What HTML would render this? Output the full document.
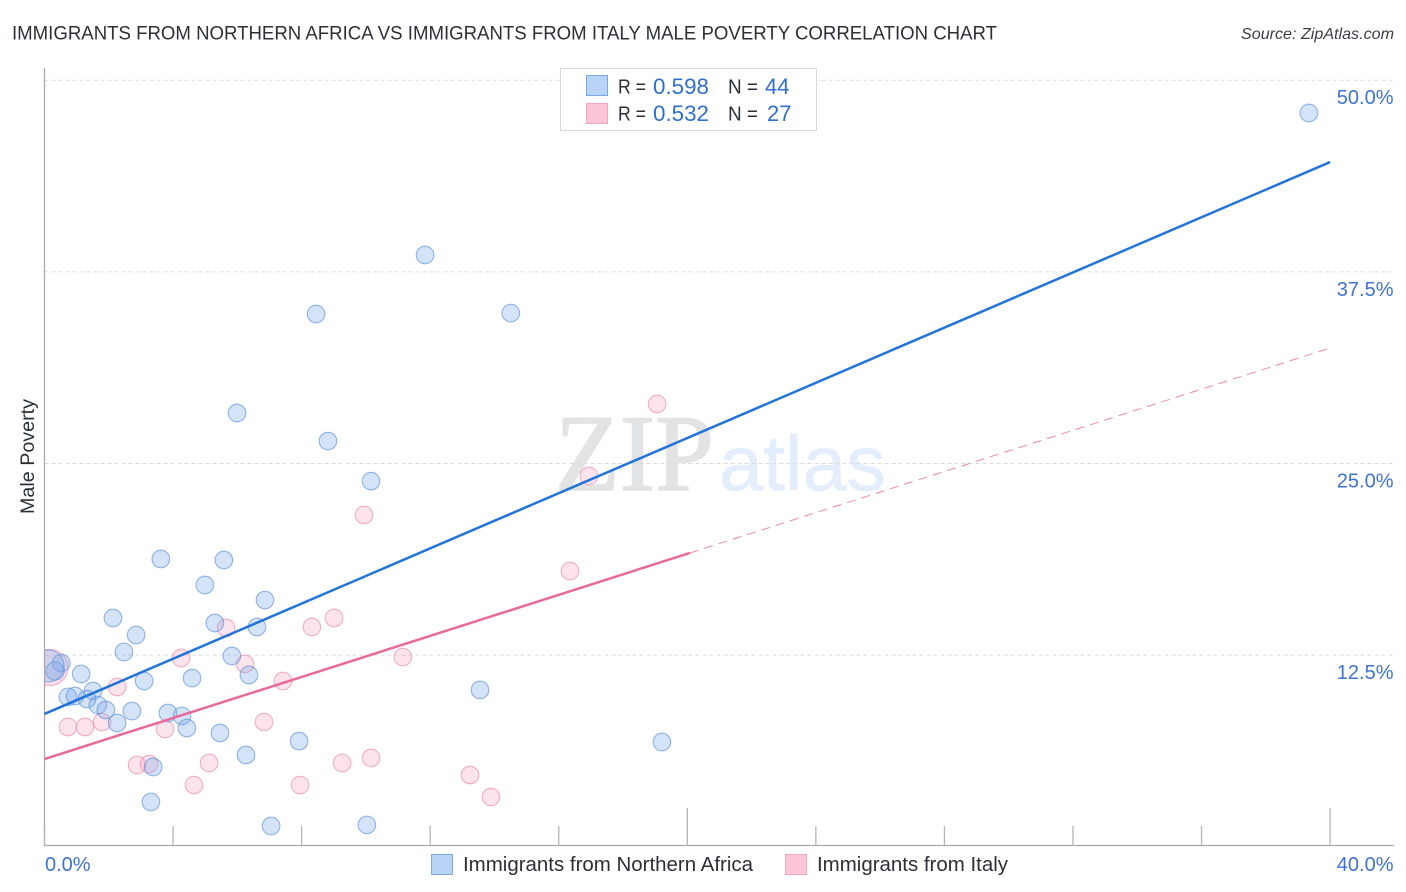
<!DOCTYPE html>
<html lang="en">
<head>
<meta charset="utf-8">
<title>Immigrants from Northern Africa vs Immigrants from Italy Male Poverty Correlation Chart</title>
<style>
html,body{margin:0;padding:0;background:#fff;}
svg{display:block;font-family:"Liberation Sans",sans-serif;}
</style>
</head>
<body>
<svg id="chart" xmlns="http://www.w3.org/2000/svg" width="1406" height="892" viewBox="0 0 1406 892">
  <defs>
    <clipPath id="plot-clip"><rect x="44.5" y="60" width="1350" height="786"/></clipPath>
  </defs>
  <rect x="0" y="0" width="1406" height="892" fill="#fff"/>

  <text x="12" y="39.5" font-size="19.5" fill="#2b2f36" textLength="985" lengthAdjust="spacingAndGlyphs">IMMIGRANTS FROM NORTHERN AFRICA VS IMMIGRANTS FROM ITALY MALE POVERTY CORRELATION CHART</text>
  <text x="1394" y="39" font-size="16" font-style="italic" fill="#3a3f47" text-anchor="end" textLength="153" lengthAdjust="spacingAndGlyphs">Source: ZipAtlas.com</text>

  <g>
    <text x="555" y="490" style="font-family:'Liberation Serif',serif" font-size="109" fill="#e2e3e5" stroke="#e2e3e5" stroke-width="1.5" textLength="159" lengthAdjust="spacingAndGlyphs">ZIP</text>
    <text x="719" y="490" style="font-family:'Liberation Sans',sans-serif" font-size="78" fill="#e3edfb" stroke="#e3edfb" stroke-width="0.6" textLength="167" lengthAdjust="spacingAndGlyphs">atlas</text>
  </g>

  <g id="grid"></g>
  <g id="points" clip-path="url(#plot-clip)"></g>
  <rect x="30" y="640" width="14.5" height="60" fill="#fff"/>
  <g id="axes"></g>
  <g id="trends"></g>
  <g id="labels"></g>

  <text transform="translate(34,456.5) rotate(-90)" font-size="19.5" fill="#2b2f36" text-anchor="middle" textLength="115" lengthAdjust="spacingAndGlyphs">Male Poverty</text>

  <g>
    <rect x="560.5" y="68.5" width="256" height="62" fill="#fff" stroke="#d9d9d9" stroke-width="1"/>
    <rect x="586.5" y="75.5" width="21" height="20" fill="#b8d3f5" stroke="#7ea8e2"/>
    <rect x="586.5" y="103.5" width="21" height="20" fill="#fcc6d8" stroke="#f2a6c0"/>
    <text x="618" y="93.5" font-size="20" fill="#2b2f36" textLength="28" lengthAdjust="spacingAndGlyphs">R =</text>
    <text x="653" y="94" font-size="22" fill="#2f6fd0" textLength="56" lengthAdjust="spacingAndGlyphs">0.598</text>
    <text x="728" y="93.5" font-size="20" fill="#2b2f36" textLength="30" lengthAdjust="spacingAndGlyphs">N =</text>
    <text x="765" y="94" font-size="22" fill="#2f6fd0">44</text>
    <text x="618" y="120.5" font-size="20" fill="#2b2f36" textLength="28" lengthAdjust="spacingAndGlyphs">R =</text>
    <text x="653" y="121" font-size="22" fill="#2f6fd0" textLength="56" lengthAdjust="spacingAndGlyphs">0.532</text>
    <text x="728" y="120.5" font-size="20" fill="#2b2f36" textLength="30" lengthAdjust="spacingAndGlyphs">N =</text>
    <text x="767" y="121" font-size="22" fill="#2f6fd0">27</text>
  </g>

  <g>
    <rect x="431.5" y="854.5" width="21" height="20" fill="#b8d3f5" stroke="#7ea8e2"/>
    <text x="463" y="871" font-size="20" fill="#2b2f36" textLength="290" lengthAdjust="spacingAndGlyphs">Immigrants from Northern Africa</text>
    <rect x="785.5" y="854.5" width="21" height="20" fill="#fcc6d8" stroke="#f2a6c0"/>
    <text x="817" y="871" font-size="20" fill="#2b2f36" textLength="191" lengthAdjust="spacingAndGlyphs">Immigrants from Italy</text>
  </g>
</svg>
<script>
const xTickValues = [0, 4, 8, 12, 16, 20, 24, 28, 32, 36, 40];
const xMajorTicks = [20, 40];
const xTickLabels = ["0.0%", "40.0%"];
const yTickValues = [12.5, 25, 37.5, 50];
const yTickLabels = ["12.5%", "25.0%", "37.5%", "50.0%"];

const blueX = [39.34,11.84,8.45,14.51,5.99,8.82,10.16,3.62,5.58,4.99,6.86,2.13,5.30,6.61,2.85,2.47,5.83,0.52,0.33,1.14,6.36,4.59,3.10,1.51,0.73,0.95,1.32,1.66,1.91,2.72,3.84,4.28,2.26,4.43,5.46,7.92,6.27,3.38,3.31,7.05,10.03,13.55,19.21,0.11];
const blueY = [47.86,38.60,34.75,34.81,28.29,26.46,23.85,18.77,18.70,17.07,16.09,14.92,14.59,14.33,13.81,12.70,12.44,11.98,11.46,11.27,11.20,11.00,10.81,10.16,9.77,9.83,9.63,9.24,8.92,8.85,8.72,8.53,8.07,7.74,7.42,6.89,5.98,5.20,2.92,1.35,1.42,10.22,6.83,11.79];
const blueWeight = [1,1,1,1,1,1,1,1,1,1,1,1,1,1,1,1,1,1,1.1,1,1,1,1,1,1,1,1,1,1,1,1,1,1,1,1,1,1,1,1,1,1,1,1,3.3];

const pinkX = [19.06,16.94,9.94,16.35,9.01,8.32,5.65,4.25,6.24,11.15,7.42,2.26,0.17,6.83,0.73,1.26,1.79,3.75,2.88,3.25,5.12,4.65,7.95,9.26,10.16,13.24,13.89];
const pinkY = [28.88,24.18,21.64,17.98,14.92,14.33,14.27,12.31,11.92,12.37,10.81,10.42,11.69,8.13,7.81,7.81,8.13,7.68,5.33,5.39,5.46,4.02,4.02,5.46,5.79,4.68,3.24];
const pinkWeight = [1,1,1,1,1,1,1,1,1,1,1,1,4.2,1,1,1,1,1,1,1,1,1,1,1,1,1,1];

const blueTrendX = [0, 40];
const blueTrendY = [8.66, 44.66];
const pinkSolidX = [0, 20.08];
const pinkSolidY = [5.72, 19.16];
const pinkDashX = [20.08, 40];
const pinkDashY = [19.16, 32.53];

const SVGNS = "http://www.w3.org/2000/svg";
function sx(v) { return 44.5 + v * 32.14; }
function sy(v) { return 846.7 - v * 15.33; }
function make(tag, attrs, parent) {
  const el = document.createElementNS(SVGNS, tag);
  for (const k in attrs) el.setAttribute(k, attrs[k]);
  parent.appendChild(el);
  return el;
}
const gridG = document.getElementById("grid");
const axesG = document.getElementById("axes");
const pointsG = document.getElementById("points");
const trendsG = document.getElementById("trends");
const labelsG = document.getElementById("labels");

yTickValues.forEach(function (v, i) {
  const line = make("line", {x1: 44.5, x2: 1393, y1: sy(v), y2: sy(v), stroke: "#dcdcdc", "stroke-width": 1, "stroke-dasharray": "4 3"}, gridG);
  
  
  const lab = make("text", {x: 1393.5, y: sy(v) + 24, "font-size": 20, fill: "#3f73d2", "text-anchor": "end"}, labelsG);
  lab.textContent = yTickLabels[i];
  
  
});

const yAxisLine = make("line", {x1: 44.5, x2: 44.5, y1: 68, y2: 846, stroke: "#aaaaaa", "stroke-width": 1.3}, axesG);


const xAxisLine = make("line", {x1: 44, x2: 1394, y1: 845.5, y2: 845.5, stroke: "#aaaaaa", "stroke-width": 1.3}, axesG);



xTickValues.forEach(function (v) {
  const top = xMajorTicks.indexOf(v) >= 0 ? 808 : 826;
  const tick = make("line", {x1: sx(v), x2: sx(v), y1: top, y2: 845.5, stroke: "#b5b5b5", "stroke-width": 1.3}, axesG);
  
  
});

const xLabLeft = make("text", {x: 45, y: 871, "font-size": 20, fill: "#3f73d2"}, labelsG);
xLabLeft.textContent = xTickLabels[0];


const xLabRight = make("text", {x: 1393.5, y: 871, "font-size": 20, fill: "#3f73d2", "text-anchor": "end"}, labelsG);
xLabRight.textContent = xTickLabels[1];



pinkX.forEach(function (v, i) {
  const c = make("circle", {cx: sx(v), cy: sy(pinkY[i]), r: 8.8 * Math.sqrt(pinkWeight[i]), fill: "#f5a3bf", "fill-opacity": 0.3, stroke: "#ec90b0", "stroke-opacity": 0.7, "stroke-width": 1.1}, pointsG);
  
  
});
blueX.forEach(function (v, i) {
  const c = make("circle", {cx: sx(v), cy: sy(blueY[i]), r: 8.8 * Math.sqrt(blueWeight[i]), fill: "#78a9ea", "fill-opacity": 0.32, stroke: "#5a8fdc", "stroke-opacity": 0.65, "stroke-width": 1.1}, pointsG);
  
  
});

const blueLine = make("line", {x1: sx(blueTrendX[0]), y1: sy(blueTrendY[0]), x2: sx(blueTrendX[1]), y2: sy(blueTrendY[1]), stroke: "#2274d9", "stroke-width": 2.5}, trendsG);


const pinkLine = make("line", {x1: sx(pinkSolidX[0]), y1: sy(pinkSolidY[0]), x2: sx(pinkSolidX[1]), y2: sy(pinkSolidY[1]), stroke: "#e96a9a", "stroke-width": 2.5}, trendsG);


const pinkDash = make("line", {x1: sx(pinkDashX[0]), y1: sy(pinkDashY[0]), x2: sx(pinkDashX[1]), y2: sy(pinkDashY[1]), stroke: "#e96a9a", "stroke-opacity": 0.8, "stroke-width": 1, "stroke-dasharray": "9 6"}, trendsG);


</script>
</body>
</html>
